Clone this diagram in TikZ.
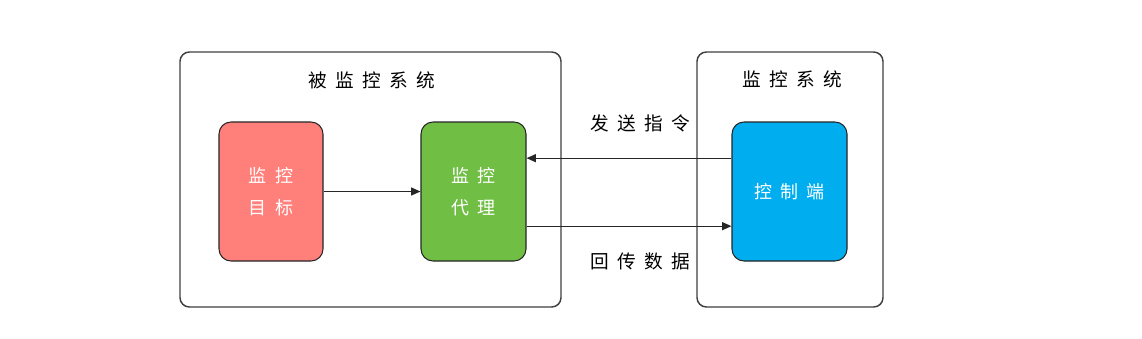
\documentclass[tikz,border=0pt]{standalone}
\usepackage{fontspec}
\setmainfont{Noto Sans CJK SC}
\newfontfamily\sketchfont[LetterSpace=45]{Noto Sans CJK SC}
\definecolor{targetred}{RGB}{255, 127, 123}
\definecolor{agentgreen}{RGB}{112, 190, 68}
\definecolor{ctrlblue}{RGB}{0, 174, 239}
\usetikzlibrary{positioning, arrows.meta, calc}

\begin{document}
\begin{tikzpicture}[x=0.75pt, y=-0.75pt, font=\sketchfont\fontsize{14}{16}\selectfont,
    sysbox/.style={draw=black!75, line width=1.1pt, rounded corners=7pt, fill=white},
    unitbox/.style={draw=black!85, line width=0.8pt, rounded corners=9pt,
        minimum height=104.25pt, align=center, text=white,
        font=\sketchfont\fontsize{13.5}{24}\selectfont},
    flow/.style={-{Triangle[length=7pt, width=6pt]}, line width=0.8pt, draw=black!85}]
        \useasboundingbox (0,0) rectangle (1142,339);
        % Monitored system
        \node[sysbox, minimum width=285.75pt, minimum height=191.25pt] (monsys)
              at (370.5,179.5) {};
        \node[below=12pt of monsys.north, xshift=1pt] (monsystitle) {被监控系统};
        % Monitoring system
        \node[sysbox, minimum width=139.5pt, minimum height=191.25pt] (ctrlsys)
              at (790,179.5) {};
        \node[below=11pt of ctrlsys.north, xshift=1.5pt] (ctrlsystitle) {监控系统};
        % Target
        \node[unitbox, fill=targetred, minimum width=78pt] (target)
              at (271,191.5) {监控\\目标};
        % Agent
        \node[unitbox, fill=agentgreen, minimum width=78.75pt] (agent)
              at (473.5,191.5) {监控\\代理};
        % Controller
        \node[unitbox, fill=ctrlblue, minimum width=86.25pt] (ctrl)
              at (789.5,191.5) {控制端};
        \draw[flow] (target) -- (agent);
        \draw[flow] ([yshift=25pt]ctrl.west) -- node[above=16pt, xshift=8.5pt] (cmdlabel) {发送指令} ([yshift=25pt]agent.east);
        \draw[flow] ([yshift=-26pt]agent.east) -- node[below=16pt, xshift=8.5pt] (datalabel) {回传数据} ([yshift=-26pt]ctrl.west);
      \end{tikzpicture}
\end{document}
